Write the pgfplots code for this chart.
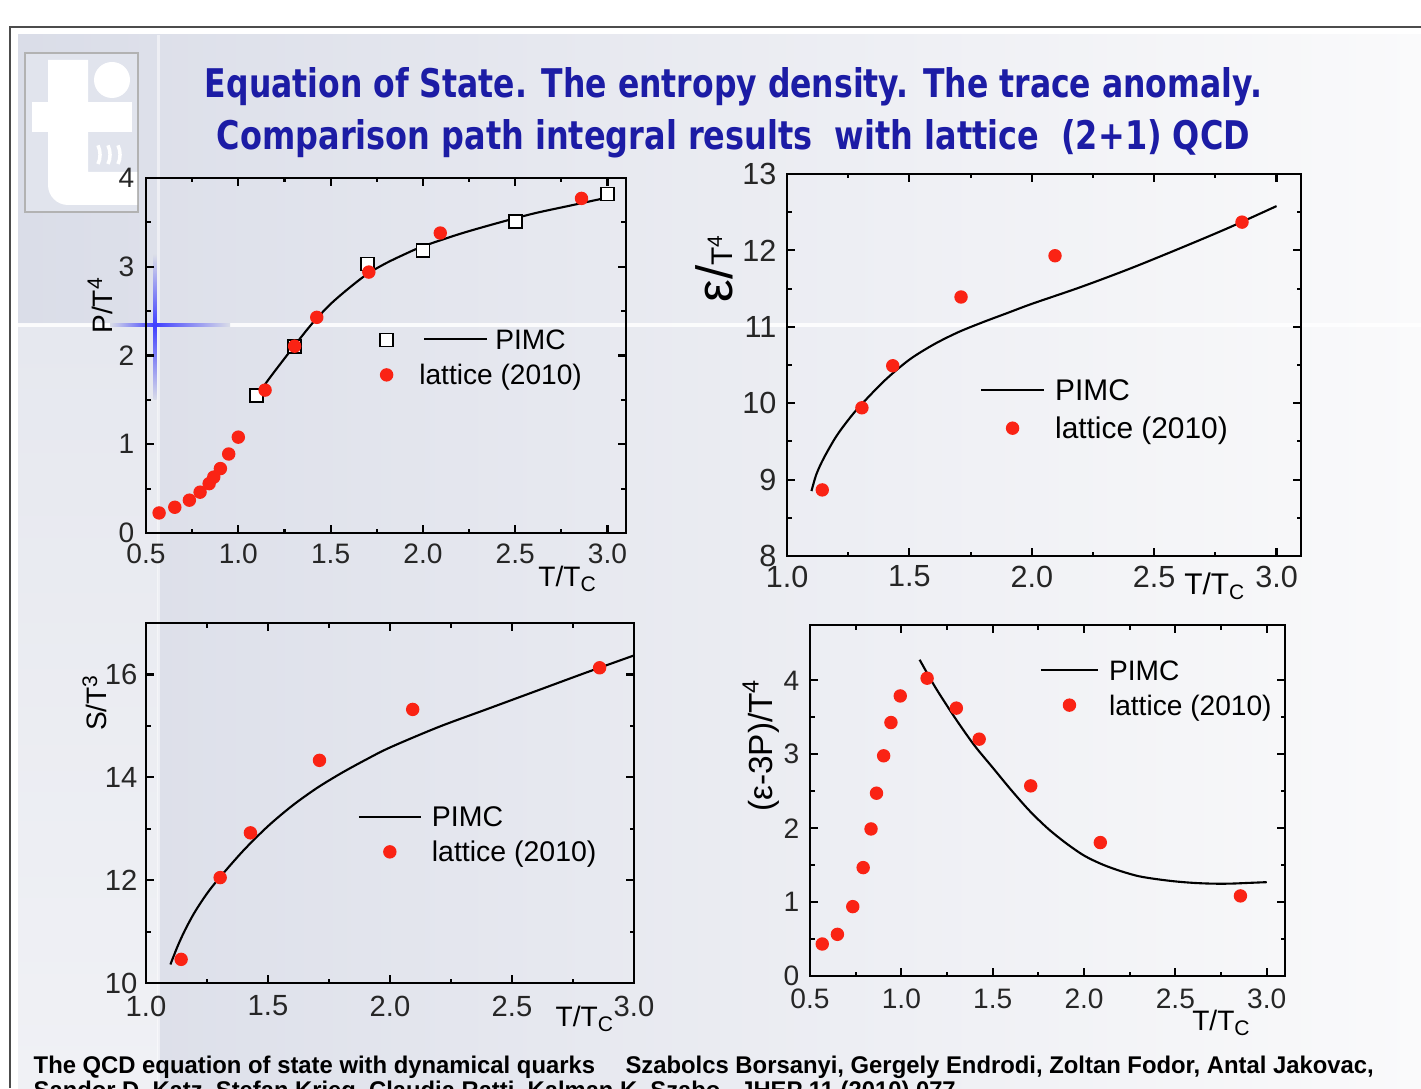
\documentclass[border=0pt]{standalone}
\usepackage{fontspec}
\setmainfont{Liberation Sans}
\newfontfamily\titlefont{DejaVu Sans}
\usepackage{graphicx}
\usepackage{pgfplots}
\pgfplotsset{compat=1.18}

\definecolor{ptred}{RGB}{250,35,20}
\definecolor{titleblue}{RGB}{28,28,165}
\definecolor{bgA}{RGB}{218,221,232}
\definecolor{bgB}{RGB}{250,250,251}
\definecolor{bgC}{RGB}{230,232,239}
\definecolor{bgD}{RGB}{240,241,245}

\pgfplotsset{
 qcd/.style={
  scale only axis,
  anchor=south west,
  axis line style={line width=0.8pt},
  tick align=inside,
  tick pos=both,
  major tick length=0.8mm,
  minor tick length=0.45mm,
  tick style={black, line width=0.6pt},
  minor x tick num=1,
  minor y tick num=1,
  /pgf/number format/assume math mode=true,
  tick label style={font=\fontsize{8}{9.6}\selectfont, inner sep=0pt, text=black!85},
  xticklabel style={/pgf/number format/fixed, /pgf/number format/fixed zerofill, /pgf/number format/precision=1},
  label style={font=\fontsize{8}{9.6}\selectfont, inner sep=0pt},
  legend cell align=left,
  legend style={draw=none, fill=none, inner sep=0pt, outer sep=0pt,
    font=\fontsize{8}{9.6}\selectfont, row sep=0.3mm, column sep=1mm,
    nodes={inner sep=0pt, text height=2.6mm, text depth=0.6mm}, anchor=north west},
 },
 pimc/.style={black, line width=0.6pt, smooth, mark=none},
 latt/.style={only marks, mark=*, mark size=0.6mm, color=ptred},
 limg/.style={legend image code/.code={\path (0cm,0cm) (#1,0cm);\draw[mark repeat=2,mark phase=2] plot coordinates {(0cm,0cm)(#1/2,0cm)(#1,0cm)};}},
}

\begin{document}
\begin{tikzpicture}
\useasboundingbox (0,0) rectangle (142.1mm,108.8mm);
\clip (0,0) rectangle (142.1mm,108.8mm);
% ---------- slide background ----------
\fill[white] (0,0) rectangle (142.1mm,108.8mm);
\shade[left color=bgA, right color=bgB] (1.8mm,0) rectangle (142.1mm,105.3mm);
\shade[top color=bgC, bottom color=bgD] (1.8mm,0) rectangle (15.8mm,76.3mm);
\draw[white, line width=0.35mm, opacity=0.85] (1.8mm,76.3mm) -- (142.1mm,76.3mm);
\draw[white, line width=0.3mm, opacity=0.5] (15.8mm,0) -- (15.8mm,105.3mm);
\shade[left color=bgA, right color=blue!75!white] (11mm,76.15mm) rectangle (15.5mm,76.45mm);
\shade[left color=blue!75!white, right color=bgA] (15.5mm,76.15mm) rectangle (23mm,76.45mm);
\shade[bottom color=bgA, top color=blue!75!white] (15.35mm,68.8mm) rectangle (15.65mm,76.3mm);
\shade[top color=bgA, bottom color=blue!75!white] (15.35mm,76.3mm) rectangle (15.65mm,83.3mm);
\draw[black!70, line width=0.15mm] (1.0mm,0) -- (1.0mm,106.1mm) -- (142.1mm,106.1mm);
% ---------- logo ----------
\draw[black!30, line width=0.15mm, fill=bgA!80!white] (2.5mm,87.6mm) rectangle (13.8mm,103.5mm);
\fill[white] (4.8mm,102.8mm) -- (8.8mm,102.8mm) -- (8.8mm,91.6mm) -- (13.7mm,91.6mm) -- (13.7mm,88.3mm) -- (6.8mm,88.3mm) arc[start angle=270, end angle=180, radius=2mm] -- cycle;
\fill[white] (3.2mm,95.6mm) rectangle (13.2mm,98.6mm);
\fill[white] (11.2mm,100.8mm) circle[radius=1.8mm];
\foreach \dx in {9.8,10.8,11.8}{\draw[white, line width=0.35mm] (\dx mm,92.4mm) arc[start angle=-25, end angle=25, radius=2.2mm];}
% ---------- titles ----------
\node[anchor=base, text=titleblue, inner sep=0pt] at (73.35mm,99.0mm)
  {\resizebox{105.7mm}{3.0mm}{\titlefont\bfseries Equation of State. The entropy density. The trace anomaly.}};
\node[anchor=base, text=titleblue, inner sep=0pt] at (73.35mm,93.8mm)
  {\resizebox{103.3mm}{3.0mm}{\titlefont\bfseries Comparison path integral results\ \ with lattice\ \ (2+1) QCD}};
% ---------- footer ----------
\node[anchor=base west, inner sep=0pt] at (3.3mm,1.5mm)
  {\resizebox{134.0mm}{1.75mm}{\bfseries The QCD equation of state with dynamical quarks\quad\ Szabolcs Borsanyi, Gergely Endrodi, Zoltan Fodor, Antal Jakovac,}};
\node[anchor=base west, inner sep=0pt] at (3.3mm,-1.0mm)
  {\resizebox{92.2mm}{1.75mm}{\bfseries Sandor D. Katz, Stefan Krieg, Claudia Ratti, Kalman K. Szabo.\ \ JHEP 11 (2010) 077}};

% ---------- panel 1: P/T^4 ----------
\begin{axis}[qcd, at={(14.6mm,55.5mm)}, width=48mm, height=35.5mm,
  xmin=0.5, xmax=3.1, ymin=0, ymax=4,
  xtick={0.5,1,1.5,2,2.5,3}, ytick={0,1,2,3,4},
  xticklabel style={yshift=-1.0mm}, yticklabel style={xshift=-1.1mm},
  xlabel={T/T\textsubscript{C}}, ylabel={P/T\textsuperscript{4}},
  x label style={at={(rel axis cs:0.879,-0.152)}, anchor=base},
  y label style={at={(rel axis cs:-0.0708,0.642)}, anchor=base},
  limg=0.44cm,
  legend style={at={(rel axis cs:0.454,0.589)}}]
\addplot[pimc, forget plot] coordinates {(1.10,1.54)(1.15,1.69)(1.20,1.83)(1.30,2.10)(1.40,2.36)(1.50,2.58)(1.60,2.76)(1.70,2.92)(1.80,3.04)(1.90,3.14)(2.00,3.23)(2.20,3.37)(2.40,3.49)(2.60,3.60)(2.80,3.69)(3.00,3.78)};
\addplot[only marks, mark=square*, mark size=0.65mm, black, fill=white, mark options={line width=0.5pt}] coordinates {(1.097,1.55)(1.305,2.10)(1.70,3.03)(2.0,3.18)(2.5,3.51)(3.0,3.82)};
\addlegendentry{\hspace{0.5mm}\rule[0.95mm]{6.3mm}{0.6pt}\hspace{0.8mm}PIMC}
\addplot[latt] coordinates {(0.571,0.226)(0.656,0.29)(0.735,0.37)(0.793,0.46)(0.842,0.556)(0.867,0.63)(0.903,0.726)(0.948,0.89)(1.000,1.08)(1.145,1.61)(1.305,2.105)(1.425,2.43)(1.707,2.94)(2.094,3.38)(2.859,3.77)};
\addlegendentry{lattice (2010)}
\end{axis}

% ---------- panel 2: eps/T^4 ----------
\begin{axis}[qcd, at={(78.7mm,53.2mm)}, width=51.4mm, height=38.2mm,
  xmin=1, xmax=3.1, ymin=8, ymax=13,
  xtick={1,1.5,2,2.5,3}, ytick={8,9,10,11,12,13},
  tick label style={font=\fontsize{8.7}{10}\selectfont},
  xticklabel style={yshift=-0.9mm}, yticklabel style={xshift=-1.0mm},
  xlabel={T/T\textsubscript{C}},
  ylabel={{\fontsize{14.5}{15}\selectfont ε/}{\fontsize{8.5}{10}\selectfont T\textsuperscript{4}}},
  x label style={at={(rel axis cs:0.833,-0.102)}, anchor=base, font=\fontsize{8.5}{10}\selectfont},
  y label style={at={(rel axis cs:-0.107,0.754)}, anchor=base},
  limg=0.63cm,
  legend style={at={(rel axis cs:0.3755,0.476)}, font=\fontsize{8.5}{10}\selectfont, row sep=0.6mm}]
\addplot[pimc] coordinates {(1.10,8.85)(1.12,9.07)(1.15,9.28)(1.2,9.56)(1.25,9.78)(1.3,9.97)(1.4,10.30)(1.5,10.57)(1.6,10.77)(1.7,10.93)(1.8,11.06)(1.9,11.18)(2.0,11.30)(2.2,11.52)(2.4,11.76)(2.6,12.02)(2.8,12.29)(3.0,12.58)};
\addlegendentry{PIMC}
\addplot[latt] coordinates {(1.144,8.865)(1.306,9.94)(1.432,10.49)(1.711,11.39)(2.095,11.93)(2.859,12.37)};
\addlegendentry{lattice (2010)}
\end{axis}

% ---------- panel 3: S/T^3 ----------
\begin{axis}[qcd, at={(14.6mm,10.5mm)}, width=48.8mm, height=36.0mm,
  xmin=1, xmax=3, ymin=10, ymax=17,
  xtick={1,1.5,2,2.5,3}, ytick={10,12,14,16},
  tick label style={font=\fontsize{8.3}{10}\selectfont},
  xticklabel style={yshift=-1.2mm}, yticklabel style={xshift=-0.8mm},
  xlabel={T/T\textsubscript{C}}, ylabel={S/T\textsuperscript{3}},
  x label style={at={(rel axis cs:0.90,-0.122)}, anchor=base},
  y label style={at={(rel axis cs:-0.080,0.78)}, anchor=base},
  limg=0.62cm,
  legend style={at={(rel axis cs:0.434,0.506)}, font=\fontsize{8.1}{10}\selectfont}]
\addplot[pimc] coordinates {(1.10,10.36)(1.13,10.72)(1.16,11.03)(1.2,11.38)(1.25,11.74)(1.3,12.04)(1.4,12.58)(1.5,13.05)(1.6,13.45)(1.7,13.79)(1.8,14.08)(1.9,14.34)(2.0,14.58)(2.2,14.98)(2.4,15.33)(2.6,15.68)(2.8,16.03)(3.0,16.37)};
\addlegendentry{PIMC}
\addplot[latt] coordinates {(1.144,10.46)(1.304,12.05)(1.428,12.92)(1.711,14.33)(2.093,15.32)(2.859,16.13)};
\addlegendentry{lattice (2010)}
\end{axis}

% ---------- panel 4: trace anomaly ----------
\begin{axis}[qcd, at={(81.0mm,11.2mm)}, width=47.5mm, height=35.1mm,
  xmin=0.5, xmax=3.1, ymin=0, ymax=4.75,
  xtick={0.5,1,1.5,2,2.5,3}, ytick={0,1,2,3,4},
  xticklabel style={yshift=-1.2mm}, yticklabel style={xshift=-1.0mm},
  xlabel={T/T\textsubscript{C}}, ylabel={(ε-3P)/T\textsuperscript{4}},
  x label style={at={(rel axis cs:0.867,-0.154)}, anchor=base},
  y label style={at={(rel axis cs:-0.080,0.658)}, anchor=base, font=\fontsize{9.5}{11}\selectfont},
  limg=0.57cm,
  legend style={at={(rel axis cs:0.484,0.917)}}]
\addplot[pimc] coordinates {(1.10,4.28)(1.15,4.06)(1.2,3.85)(1.3,3.47)(1.4,3.12)(1.5,2.82)(1.6,2.52)(1.7,2.24)(1.8,2.0)(1.9,1.80)(2.0,1.63)(2.1,1.51)(2.2,1.42)(2.3,1.35)(2.4,1.31)(2.5,1.28)(2.6,1.26)(2.7,1.25)(2.8,1.25)(2.9,1.26)(3.0,1.27)};
\addlegendentry{PIMC}
\addplot[latt] coordinates {(0.567,0.433)(0.650,0.564)(0.734,0.939)(0.791,1.467)(0.834,1.99)(0.864,2.474)(0.903,2.98)(0.943,3.43)(0.994,3.79)(1.141,4.03)(1.301,3.625)(1.426,3.205)(1.708,2.573)(2.089,1.806)(2.856,1.084)};
\addlegendentry{lattice (2010)}
\end{axis}
\end{tikzpicture}
\end{document}
